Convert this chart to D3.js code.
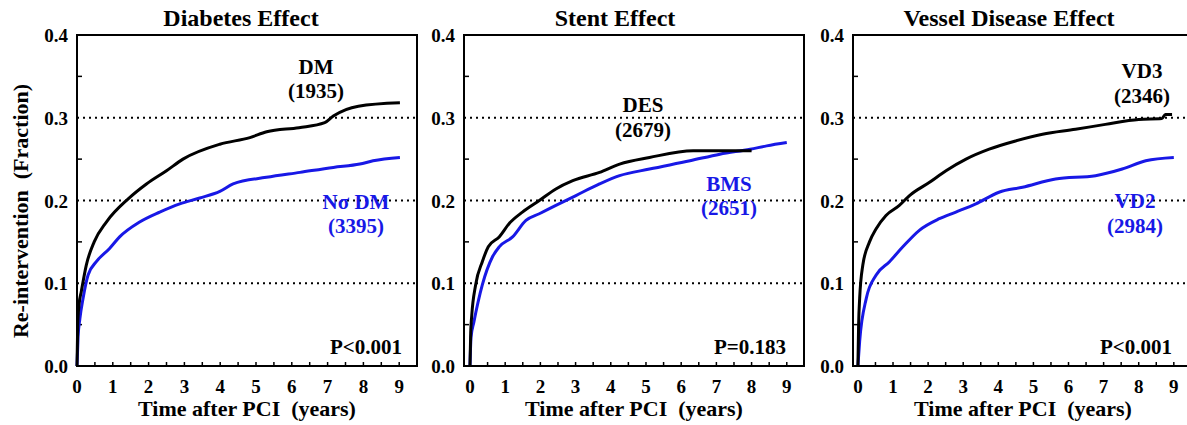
<!DOCTYPE html>
<html lang="en">
<head>
    <meta charset="utf-8" />
    <title>Re-intervention curves</title>
    <script src="https://d3js.org/d3.v7.min.js"></script>
    <style>
        body {
            margin: 0;
            padding: 0;
            background: white;
        }
        svg text {
            font-family: "Liberation Serif", "Times New Roman", serif;
            font-weight: bold;
            white-space: pre;
        }
    </style>
</head>
<body>
<svg id="chart"></svg>
<script>
    var w = 1187;
    var h = 425;

    // Data
    var panelTitles = ["Diabetes Effect", "Stent Effect", "Vessel Disease Effect"];
    var pLabels = ["P<0.001", "P=0.183", "P<0.001"];
    var blackNames = ["DM", "DES", "VD3"];
    var blackCounts = ["(1935)", "(2679)", "(2346)"];
    var blueNames = ["N\u03c3 DM", "BMS", "VD2"];
    var blueCounts = ["(3395)", "(2651)", "(2984)"];
    var xTickValues = [0, 1, 2, 3, 4, 5, 6, 7, 8, 9];
    var yTickValues = [0, 0.1, 0.2, 0.3, 0.4];
    var gridValues = [0.1, 0.2, 0.3];

    // Diabetes panel
    var dmTime  = [0, 0.02, 0.06, 0.12, 0.26, 0.48, 0.82, 1.43, 1.94, 2.5, 2.96, 3.99, 4.83, 5.3, 6.2, 6.92, 7.16, 7.86, 9.02];
    var dmValue = [0, 0.05, 0.075, 0.09, 0.122, 0.15, 0.174, 0.202, 0.22, 0.236, 0.25, 0.268, 0.276, 0.283, 0.288, 0.294, 0.302, 0.314, 0.318];
    var noDmTime  = [0, 0.03, 0.08, 0.17, 0.31, 0.54, 0.91, 1.19, 1.75, 2.31, 2.87, 3.43, 3.99, 4.36, 5.29, 6.23, 7.16, 7.9, 8.27, 9.02];
    var noDmValue = [0, 0.035, 0.057, 0.082, 0.11, 0.126, 0.142, 0.156, 0.174, 0.186, 0.196, 0.203, 0.211, 0.22, 0.228, 0.234, 0.24, 0.244, 0.248, 0.252];

    // Stent panel
    var desTime  = [0, 0.02, 0.05, 0.16, 0.35, 0.52, 0.83, 1.11, 1.49, 1.97, 2.44, 2.92, 3.68, 4.25, 5.1, 6.34, 8.0];
    var desValue = [0, 0.04, 0.061, 0.098, 0.126, 0.144, 0.156, 0.172, 0.186, 0.2, 0.214, 0.224, 0.234, 0.244, 0.252, 0.26, 0.26];
    var bmsTime  = [0, 0.03, 0.11, 0.35, 0.64, 0.83, 1.21, 1.59, 1.97, 2.44, 3.01, 3.68, 4.25, 5.1, 6.25, 7.1, 7.96, 8.43, 9.0];
    var bmsValue = [0, 0.035, 0.053, 0.098, 0.132, 0.144, 0.156, 0.176, 0.184, 0.194, 0.206, 0.22, 0.23, 0.238, 0.248, 0.256, 0.262, 0.266, 0.27];

    // Vessel disease panel
    var vd3Time  = [0, 0.02, 0.05, 0.14, 0.33, 0.52, 0.8, 1.18, 1.47, 2.04, 2.51, 3.08, 3.74, 4.5, 5.26, 6.2, 7.05, 8.0, 8.66, 8.76, 8.95];
    var vd3Value = [0, 0.05, 0.082, 0.122, 0.15, 0.166, 0.182, 0.194, 0.206, 0.222, 0.236, 0.25, 0.262, 0.272, 0.28, 0.286, 0.292, 0.298, 0.299, 0.304, 0.304];
    var vd2Time  = [0, 0.05, 0.24, 0.52, 0.9, 1.28, 1.75, 2.32, 2.79, 3.36, 4.02, 4.69, 5.63, 6.77, 7.53, 8.2, 9.0];
    var vd2Value = [0, 0.03, 0.082, 0.11, 0.126, 0.144, 0.164, 0.178, 0.186, 0.196, 0.21, 0.216, 0.226, 0.23, 0.238, 0.248, 0.252];

    var blackSeries = [[dmTime, dmValue], [desTime, desValue], [vd3Time, vd3Value]];
    var blueSeries = [[noDmTime, noDmValue], [bmsTime, bmsValue], [vd2Time, vd2Value]];

    // Layout of each panel
    var plotTop = 35, plotBottom = 366, boxW = 340;
    var panelLeft = [77, 464, 853];
    var xMinYears = [0, -0.17, -0.14];
    var pxPerYear = [35.8, 35.2, 35.1];
    var titleX = [164, 151, 156];
    var blackLabel = [[239, 74, 98], [179, 112, 137], [289, 78, 103]];
    var blueLabel = [[279, 209, 233], [265, 191, 215], [282, 208, 233]];
    var pX = [325, 322, 319];
    var blue = "#1818e6";

    var svg = d3.select("#chart")
                .attr("width", w)
                .attr("height", h);

    svg.append("rect")
        .attr("width", w)
        .attr("height", h)
        .attr("fill", "white");

    var yScale = d3.scaleLinear()
                .domain([0, 0.4])
                .range([plotBottom, plotTop]);

    panelTitles.forEach(function(title, p) {
        var left = panelLeft[p];
        var xScale = d3.scaleLinear()
                    .domain([xMinYears[p], xMinYears[p] + boxW / pxPerYear[p]])
                    .range([left, left + boxW]);

        var g = svg.append("g");

        // dotted grid lines
        g.selectAll(".grid")
            .data(gridValues)
            .enter().append("line")
            .attr("x1", left)
            .attr("x2", left + boxW)
            .attr("y1", function(d) { return yScale(d); })
            .attr("y2", function(d) { return yScale(d); })
            .attr("stroke", "black")
            .attr("stroke-width", 2)
            .attr("stroke-dasharray", "2,4");

        // minor ticks pointing inward
        g.selectAll(".ytick")
            .data(d3.range(0.05, 0.4, 0.1))
            .enter().append("line")
            .attr("x1", left)
            .attr("x2", left + 5)
            .attr("y1", function(d) { return yScale(d); })
            .attr("y2", function(d) { return yScale(d); })
            .attr("stroke", "black")
            .attr("stroke-width", 1.5);

        g.selectAll(".xtick")
            .data(d3.range(0, 9.01, 0.5))
            .enter().append("line")
            .attr("x1", function(d) { return xScale(d); })
            .attr("x2", function(d) { return xScale(d); })
            .attr("y1", plotBottom)
            .attr("y2", plotBottom - 4)
            .attr("stroke", "black")
            .attr("stroke-width", 1.5);

        // curves
        var line = d3.line()
                    .x(function(d) { return xScale(d[0]); })
                    .y(function(d) { return yScale(d[1]); })
                    .curve(d3.curveMonotoneX);

        var bs = blueSeries[p];
        g.append("path")
            .attr("d", line(d3.zip(bs[0], bs[1])))
            .attr("fill", "none")
            .attr("stroke", blue)
            .attr("stroke-width", 3);

        var ks = blackSeries[p];
        g.append("path")
            .attr("d", line(d3.zip(ks[0], ks[1])))
            .attr("fill", "none")
            .attr("stroke", "black")
            .attr("stroke-width", 3);

        // frame
        g.append("rect")
            .attr("x", left)
            .attr("y", plotTop)
            .attr("width", boxW)
            .attr("height", plotBottom - plotTop)
            .attr("fill", "none")
            .attr("stroke", "black")
            .attr("stroke-width", 2);

        // tick labels
        g.selectAll(".ylab")
            .data(yTickValues)
            .enter().append("text")
            .attr("x", left - 9)
            .attr("y", function(d) { return yScale(d) + 7; })
            .attr("text-anchor", "end")
            .attr("font-size", "19px")
            .text(function(d) { return d3.format(".1f")(d); });

        g.selectAll(".xlab")
            .data(xTickValues)
            .enter().append("text")
            .attr("x", function(d) { return xScale(d); })
            .attr("y", 393)
            .attr("text-anchor", "middle")
            .attr("font-size", "19px")
            .text(function(d) { return d; });

        // titles
        g.append("text")
            .attr("x", left + titleX[p])
            .attr("y", 26)
            .attr("text-anchor", "middle")
            .attr("font-size", "24px")
            .text(title);

        g.append("text")
            .attr("x", left + 170)
            .attr("y", 416)
            .attr("text-anchor", "middle")
            .attr("font-size", "22px")
            .text("Time after PCI  (years)");

        // group labels
        g.append("text")
            .attr("x", left + blackLabel[p][0])
            .attr("y", blackLabel[p][1])
            .attr("text-anchor", "middle")
            .attr("font-size", "21px")
            .text(blackNames[p]);
        g.append("text")
            .attr("x", left + blackLabel[p][0])
            .attr("y", blackLabel[p][2])
            .attr("text-anchor", "middle")
            .attr("font-size", "21px")
            .text(blackCounts[p]);
        g.append("text")
            .attr("x", left + blueLabel[p][0])
            .attr("y", blueLabel[p][1])
            .attr("text-anchor", "middle")
            .attr("font-size", "21px")
            .attr("fill", blue)
            .text(blueNames[p]);
        g.append("text")
            .attr("x", left + blueLabel[p][0])
            .attr("y", blueLabel[p][2])
            .attr("text-anchor", "middle")
            .attr("font-size", "21px")
            .attr("fill", blue)
            .text(blueCounts[p]);

        g.append("text")
            .attr("x", left + pX[p])
            .attr("y", 354)
            .attr("text-anchor", "end")
            .attr("font-size", "21px")
            .text(pLabels[p]);
    });

    // shared y axis title
    svg.append("text")
        .attr("transform", "translate(28,211) rotate(-90)")
        .attr("text-anchor", "middle")
        .attr("font-size", "22px")
        .text("Re-intervention  (Fraction)");
</script>
</body>
</html>
